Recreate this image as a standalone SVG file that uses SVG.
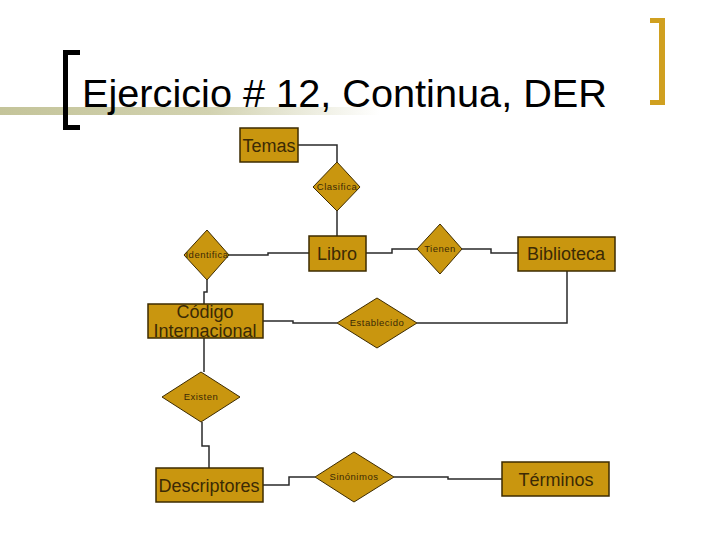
<svg xmlns="http://www.w3.org/2000/svg" width="720" height="540" viewBox="0 0 720 540">
<defs>
<linearGradient id="bar" x1="0" y1="0" x2="1" y2="0">
<stop offset="0" stop-color="#c4c49a"/>
<stop offset="0.55" stop-color="#d2d2b0"/>
<stop offset="1" stop-color="#ffffff"/>
</linearGradient>
<style>
.ent{fill:#c9960f;stroke:#3d2b00;stroke-width:1.5}
.rel{fill:#c9960f;stroke:#3d2b00;stroke-width:1}
.et{font-family:"Liberation Sans",Arial,sans-serif;font-size:18px;fill:#3b2a05;text-anchor:middle}
.rt{font-family:"Liberation Sans",Arial,sans-serif;font-size:9.5px;fill:#3b2a05;text-anchor:middle;letter-spacing:0.5px}
.ln{fill:none;stroke:#2a2a2a;stroke-width:1.5}
</style>
</defs>
<rect width="720" height="540" fill="#ffffff"/>
<g id="header">
<rect x="0" y="107" width="380" height="8" fill="url(#bar)"/>
<path d="M63 50 H80 V55 H68 V125 H80 V130 H63 Z" fill="#000000"/>
<path d="M650 18 H665 V105 H650 V100 H659 V23 H650 Z" fill="#d0a020"/>
<text x="82" y="107" font-family="Liberation Sans, Arial, sans-serif" font-size="39" textLength="525" lengthAdjust="spacingAndGlyphs" fill="#000000">Ejercicio # 12, Continua, DER</text>
</g>
<g id="connectors">
<path class="ln" d="M298 145 H337 V162"/>
<path class="ln" d="M337 211 V236"/>
<path class="ln" d="M229 255 H268 V253 H309"/>
<path class="ln" d="M207 280 V292 H204 V304"/>
<path class="ln" d="M366 253 H392 V249 H417"/>
<path class="ln" d="M462 249 H491 V253 H518"/>
<path class="ln" d="M263 321 H293 V323 H337"/>
<path class="ln" d="M417 323 H567 V271"/>
<path class="ln" d="M204 338 V372"/>
<path class="ln" d="M202 422 V446 H209 V468"/>
<path class="ln" d="M263 485 H289 V477 H315"/>
<path class="ln" d="M394 477 H448 V479 H502"/>
</g>
<g id="temas"><rect class="ent" x="240" y="128" width="58" height="34"/><text class="et" x="269" y="152">Temas</text></g>
<g id="clasifica"><polygon class="rel" points="337,162 360,187 337,211 313,187"/><text class="rt" x="337" y="190">Clasifica</text></g>
<g id="identifica"><polygon class="rel" points="207,230 229,255 207,280 184,255"/><text class="rt" x="207" y="258">Identifica</text></g>
<g id="libro"><rect class="ent" x="309" y="236" width="57" height="35"/><text class="et" x="337" y="260">Libro</text></g>
<g id="tienen"><polygon class="rel" points="440,224 462,249 440,274 417,249"/><text class="rt" x="440" y="252">Tienen</text></g>
<g id="biblioteca"><rect class="ent" x="518" y="237" width="97" height="34"/><text class="et" x="566" y="260">Biblioteca</text></g>
<g id="codigo"><rect class="ent" x="148" y="304" width="115" height="34"/><text class="et" x="205" y="318">Código</text><text class="et" x="205" y="337">Internacional</text></g>
<g id="establecido"><polygon class="rel" points="377,298 417,323 377,348 337,323"/><text class="rt" x="377" y="326">Establecido</text></g>
<g id="existen"><polygon class="rel" points="201,372 240,397 201,422 162,397"/><text class="rt" x="201" y="400">Existen</text></g>
<g id="descriptores"><rect class="ent" x="156" y="468" width="107" height="34"/><text class="et" x="209" y="492">Descriptores</text></g>
<g id="sinonimos"><polygon class="rel" points="354,452 394,477 354,502 315,477"/><text class="rt" x="354" y="480">Sinónimos</text></g>
<g id="terminos"><rect class="ent" x="502" y="462" width="107" height="34"/><text class="et" x="556" y="486">Términos</text></g>
</svg>
